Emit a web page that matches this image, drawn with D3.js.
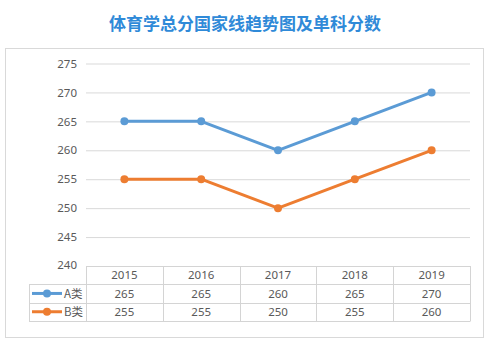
<!DOCTYPE html>
<html>
<head>
<meta charset="utf-8">
<script src="https://cdn.jsdelivr.net/npm/d3@7"></script>
<style>
  body { margin: 0; background: #fff; }
  svg { display: block; font-family: "Noto Sans", "Noto Sans CJK SC", sans-serif; }
</style>
</head>
<body>
<div id="chart"></div>
<script>
const title = '体育学总分国家线趋势图及单科分数';
const years = ['2015', '2016', '2017', '2018', '2019'];
const seriesNames = ['A类', 'B类'];
const seriesA = [265, 265, 260, 265, 270];
const seriesB = [255, 255, 250, 255, 260];
const yTicks = [240, 245, 250, 255, 260, 265, 270, 275];
const colors = ['#5b9bd5', '#ed7d31'];

const width = 490, height = 343;
const plot = { left: 86, right: 470, top: 63.5, bottom: 266 };
const rowH = 18.3;
const legendLeft = 29;

const svg = d3.select('#chart').append('svg')
  .attr('width', width)
  .attr('height', height);

// title
svg.append('text')
  .attr('x', 245).attr('y', 30)
  .attr('text-anchor', 'middle')
  .attr('font-family', '"Noto Sans CJK SC", sans-serif')
  .attr('font-size', 17)
  .attr('font-weight', 'bold')
  .attr('fill', '#2f8ad8')
  .text(title);

// chart frame
svg.append('rect')
  .attr('x', 5.5).attr('y', 48.5)
  .attr('width', 478).attr('height', 289)
  .attr('fill', '#fff')
  .attr('stroke', '#d9d9d9');

const x = d3.scaleBand()
  .domain(years)
  .range([plot.left, plot.right]);

const y = d3.scaleLinear()
  .domain([240, 275])
  .range([plot.bottom, plot.top]);

// gridlines + y labels
const yAxis = svg.append('g')
  .attr('transform', 'translate(' + plot.left + ',0)')
  .call(d3.axisLeft(y).tickValues(yTicks).tickSize(-(plot.right - plot.left)).tickPadding(9));
yAxis.select('.domain').remove();
yAxis.selectAll('.tick line').attr('stroke', '#d9d9d9');
yAxis.selectAll('.tick text')
  .attr('fill', '#595959')
  .attr('font-size', 11.5)
  .attr('font-family', '"Noto Sans", sans-serif');
yAxis.selectAll('.tick').filter(d => d === 240).select('line').remove();
yAxis.selectAll('.tick').filter(d => d === 240).select('text').attr('dy', '0.2em');

// data table
const table = svg.append('g');
const tableTop = plot.bottom;
const gridColor = '#d4d4d4';
// horizontal lines
table.append('line')
  .attr('x1', plot.left).attr('x2', plot.right)
  .attr('y1', tableTop + 0.5).attr('y2', tableTop + 0.5)
  .attr('stroke', gridColor);
[1, 2, 3].forEach(i => {
  table.append('line')
    .attr('x1', legendLeft).attr('x2', plot.right)
    .attr('y1', Math.round(tableTop + i * rowH) + 0.5)
    .attr('y2', Math.round(tableTop + i * rowH) + 0.5)
    .attr('stroke', gridColor);
});
// vertical lines
years.concat(['end']).forEach((yr, i) => {
  const xx = Math.round(plot.left + i * x.bandwidth()) + 0.5;
  table.append('line')
    .attr('x1', xx).attr('x2', xx)
    .attr('y1', tableTop).attr('y2', Math.round(tableTop + 3 * rowH) + 0.5)
    .attr('stroke', gridColor);
});
table.append('line')
  .attr('x1', legendLeft + 0.5).attr('x2', legendLeft + 0.5)
  .attr('y1', Math.round(tableTop + rowH)).attr('y2', Math.round(tableTop + 3 * rowH) + 0.5)
  .attr('stroke', gridColor);

// header row
table.selectAll('.yr').data(years).enter().append('text')
  .attr('x', d => x(d) + x.bandwidth() / 2)
  .attr('y', tableTop + rowH / 2)
  .attr('dy', '0.36em')
  .attr('text-anchor', 'middle')
  .attr('font-size', 11.5)
  .attr('fill', '#595959')
  .text(d => d);

[seriesA, seriesB].forEach((vals, si) => {
  const cy = tableTop + (si + 1.5) * rowH;
  table.selectAll('.v' + si).data(vals).enter().append('text')
    .attr('x', (d, i) => x(years[i]) + x.bandwidth() / 2)
    .attr('y', cy)
    .attr('dy', '0.36em')
    .attr('text-anchor', 'middle')
    .attr('font-size', 11.5)
    .attr('fill', '#595959')
    .text(d => d);
  // legend key
  table.append('line')
    .attr('x1', legendLeft + 3).attr('x2', legendLeft + 33)
    .attr('y1', cy).attr('y2', cy)
    .attr('stroke', colors[si]).attr('stroke-width', 3);
  table.append('circle')
    .attr('cx', legendLeft + 18).attr('cy', cy).attr('r', 4)
    .attr('fill', colors[si]);
  table.append('text')
    .attr('x', legendLeft + 35).attr('y', cy)
    .attr('dy', '0.36em')
    .attr('font-size', 11.5)
    .attr('fill', '#595959')
    .attr('font-family', '"Noto Sans CJK SC", sans-serif')
    .text(seriesNames[si]);
});

// lines
const line = d3.line()
  .x((d, i) => x(years[i]) + x.bandwidth() / 2)
  .y(d => y(d));

[seriesA, seriesB].forEach((vals, si) => {
  svg.append('path')
    .datum(vals)
    .attr('d', line)
    .attr('fill', 'none')
    .attr('stroke', colors[si])
    .attr('stroke-width', 3)
    .attr('stroke-linejoin', 'round');
  svg.selectAll('.pt' + si).data(vals).enter().append('circle')
    .attr('cx', (d, i) => x(years[i]) + x.bandwidth() / 2)
    .attr('cy', d => y(d))
    .attr('r', 4)
    .attr('fill', colors[si]);
});
</script>
</body>
</html>
